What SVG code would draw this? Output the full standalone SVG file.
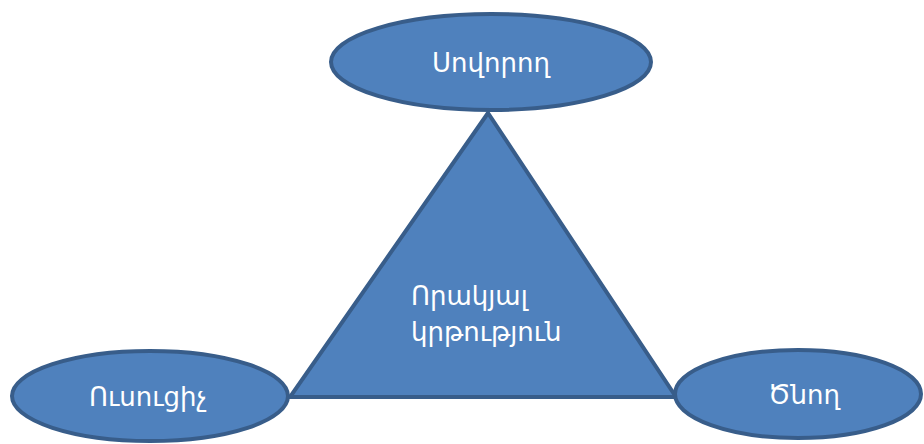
<svg xmlns="http://www.w3.org/2000/svg" width="924" height="444" viewBox="0 0 924 444">
<style>
.shape{fill:#4f81bd;stroke:#385d8a;stroke-width:4;stroke-linejoin:miter}
.lbl{fill:#ffffff;font-family:"DejaVu Sans","Noto Sans",sans-serif;font-size:26px}
</style>
<rect width="924" height="444" fill="#ffffff"/>
<g id="connectors"></g>
<g id="triangle">
<polygon class="shape" points="488,113 290,397 676,397"/>
<text class="lbl" x="411" y="305">Որակյալ</text>
<text class="lbl" x="411" y="341">կրթություն</text>
</g>
<g id="sovorogh">
<ellipse class="shape" cx="491" cy="62" rx="160" ry="48"/>
<text class="lbl" x="491" y="72" text-anchor="middle">Սովորող</text>
</g>
<g id="usutsich">
<ellipse class="shape" cx="150" cy="396" rx="138" ry="45"/>
<text class="lbl" x="148" y="406" text-anchor="middle">Ուսուցիչ</text>
</g>
<g id="tsnogh">
<ellipse class="shape" cx="798" cy="394" rx="123" ry="44"/>
<text class="lbl" x="804" y="404" text-anchor="middle">Ծնող</text>
</g>
</svg>
